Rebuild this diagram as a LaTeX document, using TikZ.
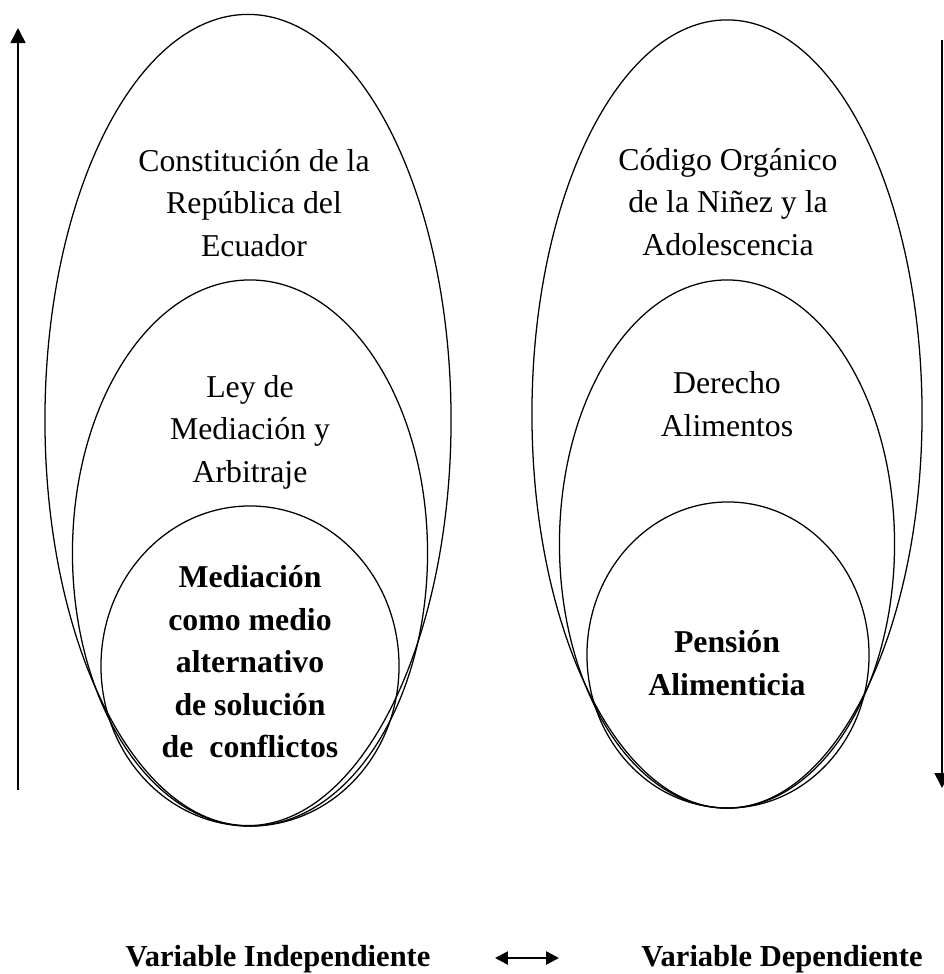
\documentclass[tikz,border=0pt]{standalone}
\usepackage{fontspec}
\setmainfont{Liberation Serif}
\usetikzlibrary{shapes.geometric,arrows.meta}

\begin{document}
\begin{tikzpicture}[x=0.025cm,y=-0.025cm,>={Triangle[length=0.375cm,width=0.375cm]},
                    ring/.style={ellipse,draw,line width=0.9pt,inner sep=0pt},
                    txt/.style={align=center,font=\fontsize{22.6}{30.2}\selectfont},
                    bold txt/.style={align=center,font=\fontsize{22.6}{30.2}\selectfont\bfseries}]
  \useasboundingbox (0,0) rectangle (944,974);

  % left side
  \node[ring, minimum width=10.15cm, minimum height=20.275cm] (cre) at (248,420) {};
  \node[ring, minimum width=8.875cm, minimum height=13.65cm] (lma) at (250,553) {};
  \node[ring, minimum width=7.45cm, minimum height=8cm] (med) at (250,666) {};

  \node[txt] (cre text) at (254,203) {Constitución de la\\República del\\Ecuador};
  \node[txt] (lma text) at (250,432) {Ley de\\Mediación y\\Arbitraje};
  \node[bold txt] (med text) at (250,662) {Mediación\\como medio\\alternativo\\de solución\\de\ \ conflictos};

  % right side
  \node[ring, minimum width=9.75cm, minimum height=19.7cm] (cna) at (727,414) {};
  \node[ring, minimum width=8.375cm, minimum height=13.2cm] (ali) at (727,544) {};
  \node[ring, minimum width=7.05cm, minimum height=7.65cm] (pen) at (728,655) {};

  \node[txt] (cna text) at (728,202) {Código Orgánico\\de la Niñez y la\\Adolescencia};
  \node[txt] (ali text) at (727,404) {Derecho\\Alimentos};
  \node[bold txt] (pen text) at (727,663) {Pensión\\Alimenticia};

  % arrows
  \coordinate (up low) at (18,790);
  \coordinate (up high) at (18,28);
  \coordinate (down high) at (942,40);
  \coordinate (down low) at (942,788);
  \draw[->, line width=1.2pt] (up low) -- (up high);
  \draw[->, line width=1.2pt] (down high) -- (down low);

  % variables
  \node[anchor=base, font=\fontsize{21.7}{26}\selectfont\bfseries] (vi) at (278,966) {Variable Independiente};
  \node[anchor=base, font=\fontsize{21.7}{26}\selectfont\bfseries] (vd) at (782,966) {Variable Dependiente};
  \coordinate (link left) at (495,958);
  \coordinate (link right) at (559,958);
  \draw[<->, line width=1.8pt, >={Triangle[length=0.32cm,width=0.32cm]}] (link left) -- (link right);
\end{tikzpicture}
\end{document}
